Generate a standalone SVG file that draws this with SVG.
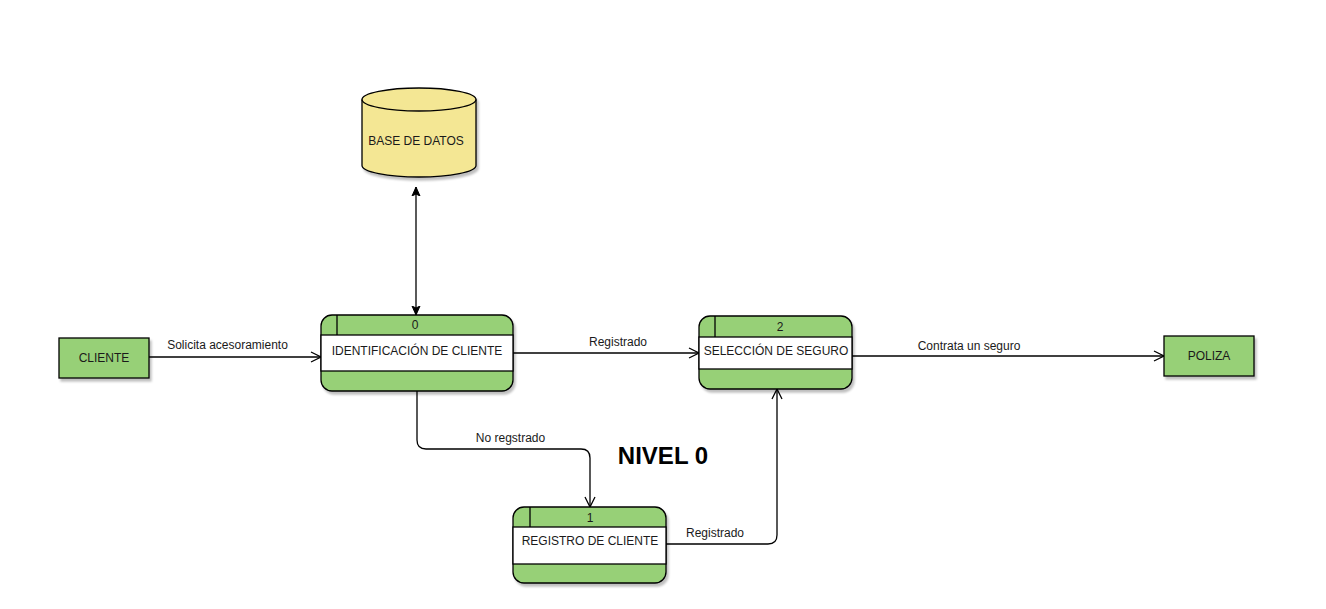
<svg xmlns="http://www.w3.org/2000/svg" width="1326" height="609" viewBox="0 0 1326 609">
<style>
text{font-family:"Liberation Sans",Arial,sans-serif;font-size:12px;fill:#1a1a1a;text-anchor:middle;dominant-baseline:central}
.g{fill:#97d077;stroke:#000;stroke-width:1.3}
.w{fill:#fff;stroke:#000;stroke-width:1.3}
.ln{fill:none;stroke:#000;stroke-width:1.3}
.c{fill:none;stroke:#000;stroke-width:1.3}
.t{font-size:24px;font-weight:bold;fill:#000}
</style>
<defs>
<filter id="sh" x="-10%" y="-10%" width="130%" height="130%">
<feOffset dx="2" dy="3" in="SourceAlpha" result="o"/>
<feGaussianBlur in="o" stdDeviation="1.2" result="b"/>
<feColorMatrix in="b" type="matrix" values="0 0 0 0 0 0 0 0 0 0 0 0 0 0 0 0 0 0 0.25 0" result="s"/>
<feMerge><feMergeNode in="s"/><feMergeNode in="SourceGraphic"/></feMerge>
</filter>
<marker id="open" markerWidth="12" markerHeight="12" viewBox="0 0 12 12" refX="11" refY="6" orient="auto" markerUnits="userSpaceOnUse">
<path d="M1,1 L11,6 L1,11" fill="none" stroke="#000" stroke-width="1.3"/>
</marker>
<marker id="blk" markerWidth="10" markerHeight="10" viewBox="0 0 10 10" refX="9" refY="5" orient="auto-start-reverse" markerUnits="userSpaceOnUse">
<path d="M0,1 L9,5 L0,9 L2,5 Z" fill="#000" stroke="#000" stroke-width="1"/>
</marker>
</defs>

<g id="connectors">
<path class="c" d="M416,187 L416,315" marker-start="url(#blk)" marker-end="url(#blk)"/>
<path class="c" d="M149,357 L321,357" marker-end="url(#open)"/>
<path class="c" d="M513,353 L699,353" marker-end="url(#open)"/>
<path class="c" d="M852,356 L1164,356" marker-end="url(#open)"/>
<path class="c" d="M417,391 L417,440 Q417,449 426,449 L581,449 Q590,449 590,458 L590,507" marker-end="url(#open)"/>
<path class="c" d="M666,544 L768,544 Q777,544 777,535 L777,389" marker-end="url(#open)"/>
<text x="227.5" y="345">Solicita acesoramiento</text>
<text x="618" y="342">Registrado</text>
<text x="969" y="346">Contrata un seguro</text>
<text x="510.5" y="438">No regstrado</text>
<text x="715" y="533">Registrado</text>
</g>

<g id="db">
<g filter="url(#sh)">
<path d="M362,99.5 L362,165.5 A57,11.5 0 0 0 476,165.5 L476,99.5 A57,11.5 0 0 0 362,99.5 Z" fill="#f4e794" stroke="#000" stroke-width="1.3"/>
<path d="M362,99.5 A57,11.5 0 0 0 476,99.5" fill="none" stroke="#000" stroke-width="1.3"/>
</g>
<text x="416" y="141">BASE DE DATOS</text>
</g>

<g id="cliente">
<rect class="g" x="59" y="338" width="90" height="40" filter="url(#sh)"/>
<text x="104" y="358">CLIENTE</text>
</g>

<g id="poliza">
<rect class="g" x="1164" y="336" width="90" height="40" filter="url(#sh)"/>
<text x="1209" y="356">POLIZA</text>
</g>

<g id="p0">
<rect class="g" x="321" y="315" width="192" height="76" rx="11" filter="url(#sh)"/>
<rect class="w" x="321" y="335" width="192" height="36"/>
<line class="ln" x1="337" y1="315" x2="337" y2="335"/>
<text x="415" y="325">0</text>
<text x="417" y="351">IDENTIFICACIÓN DE CLIENTE</text>
</g>

<g id="p2">
<rect class="g" x="699" y="316" width="153" height="73" rx="11" filter="url(#sh)"/>
<rect class="w" x="699" y="337" width="153" height="32"/>
<line class="ln" x1="715" y1="316" x2="715" y2="337"/>
<text x="780" y="327">2</text>
<text x="776" y="351">SELECCIÓN DE SEGURO</text>
</g>

<g id="p1">
<rect class="g" x="513" y="507" width="153" height="76" rx="11" filter="url(#sh)"/>
<rect class="w" x="513" y="527" width="153" height="37"/>
<line class="ln" x1="530" y1="507" x2="530" y2="527"/>
<text x="590" y="518">1</text>
<text x="590" y="541">REGISTRO DE CLIENTE</text>
</g>

<g id="title">
<text class="t" x="663" y="455">NIVEL 0</text>
</g>
</svg>
